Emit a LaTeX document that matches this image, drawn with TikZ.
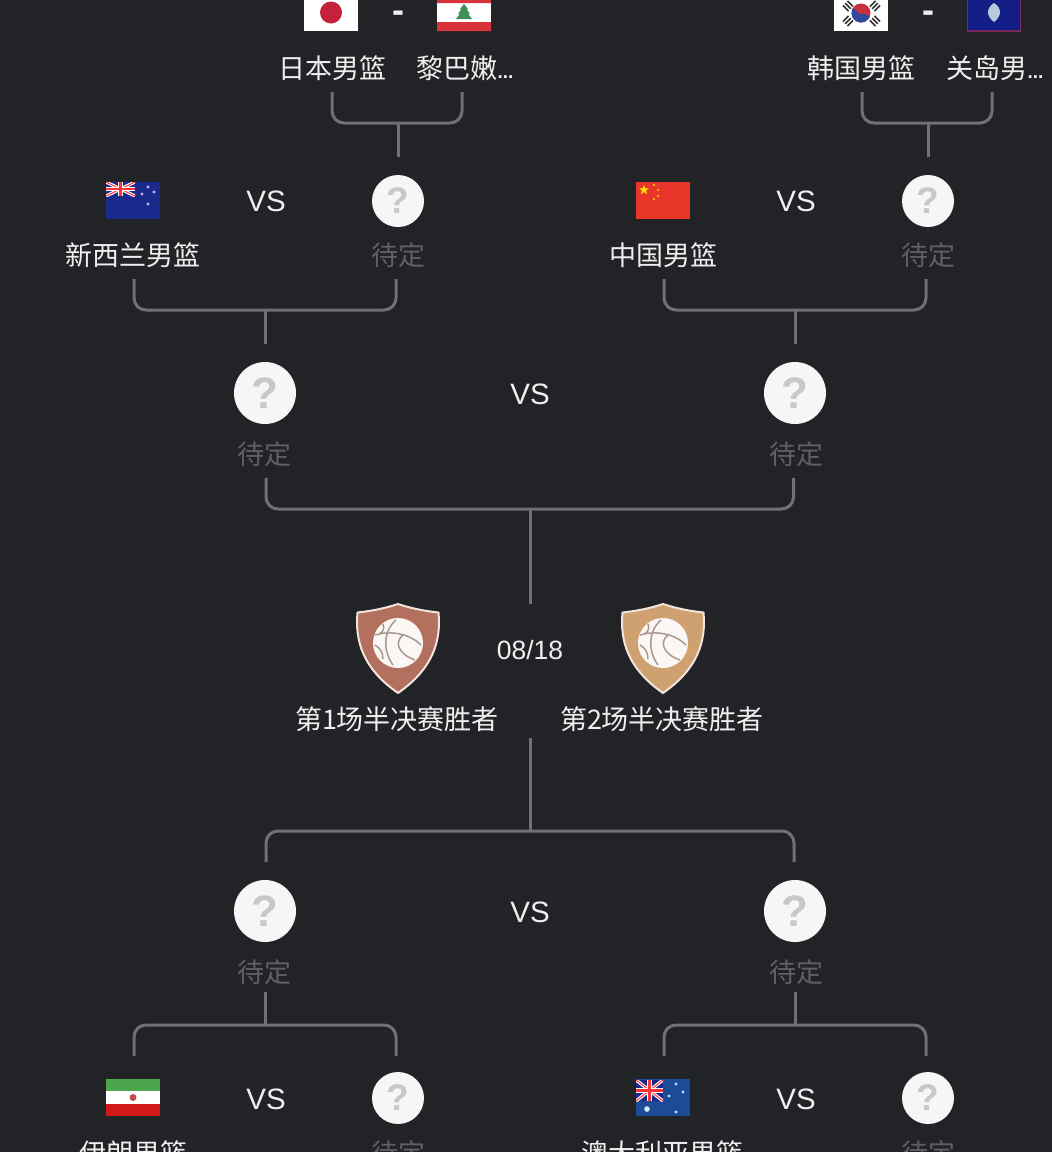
\documentclass[tikz,border=0pt]{standalone}
\usepackage{fontspec}
\usetikzlibrary{shapes.geometric}
\setmainfont{Noto Sans CJK SC}
\newfontfamily\latinfont{Liberation Sans}
\definecolor{bgdark}{HTML}{222326}
\definecolor{linegrey}{HTML}{707173}
\definecolor{txtwhite}{HTML}{EFEFEF}
\definecolor{txtgrey}{HTML}{5F6062}
\definecolor{qwhite}{HTML}{F6F6F6}
\definecolor{qgrey}{HTML}{C8C8C8}
\definecolor{jackblue}{HTML}{1A2A8C}
\definecolor{guamblue}{HTML}{141E87}
\definecolor{guamedge}{HTML}{78285A}
\definecolor{guamseal}{HTML}{B9C9DC}
\definecolor{cnred}{HTML}{E8352A}
\definecolor{aublue}{HTML}{1E4B96}
\definecolor{shieldA}{HTML}{B4705E}
\definecolor{shieldB}{HTML}{CFA070}
\definecolor{shieldedge}{HTML}{F2E4DC}
\definecolor{ballwhite}{HTML}{FBF7F4}
\definecolor{ballline}{HTML}{A8988F}
\definecolor{jpred}{HTML}{C4213A}
\definecolor{lbred}{HTML}{D8323A}
\definecolor{lbgreen}{HTML}{3E8F55}
\definecolor{krred}{HTML}{C8303F}
\definecolor{krblue}{HTML}{2C4A9C}
\definecolor{krbar}{HTML}{333333}
\newcommand{\dotsmark}{{\latinfont\bfseries\fontsize{19}{20}\selectfont...}}
\tikzset{
  every node/.style={inner sep=0pt,outer sep=0pt},
  teamlabel/.style={text=txtwhite,font=\fontsize{27}{30}\selectfont,minimum height=48pt},
  pending/.style={text=txtgrey,font=\fontsize{27}{30}\selectfont,minimum height=48pt},
  vslabel/.style={text=txtwhite,font=\latinfont\fontsize{29.5}{33}\selectfont},
  datelabel/.style={text=txtwhite,font=\latinfont\fontsize{26.5}{28}\selectfont,minimum height=92pt},
  dashlabel/.style={text=txtwhite,font=\latinfont\bfseries\fontsize{36}{38}\selectfont},
  qsmall/.style={circle,fill=qwhite,minimum size=52pt,outer sep=18pt,text=qgrey,font=\latinfont\bfseries\fontsize{37}{38}\selectfont},
  qbig/.style={circle,fill=qwhite,minimum size=62pt,outer sep=18pt,text=qgrey,font=\latinfont\bfseries\fontsize{44}{46}\selectfont},
  flagbox/.style={rectangle,minimum width=54pt,minimum height=37pt,outer sep=0pt},
  conn/.style={draw=linegrey,line width=3pt,rounded corners=12pt},
  stem/.style={draw=linegrey,line width=3pt},
  krbars/.style={draw=krbar,line width=1.6pt},
}
\newcommand{\ujack}[4]{% x0 y0 w h
  \begin{scope}
    \clip (#1,#2) rectangle ++(#3,#4);
    \fill[jackblue] (#1,#2) rectangle ++(#3,#4);
    \draw[white,line width=3.2pt] (#1,#2) -- ++(#3,#4) (#1,#2) ++(0,#4) -- ++(#3,-#4);
    \draw[red!75!white,line width=1.1pt] (#1,#2) -- ++(#3,#4) (#1,#2) ++(0,#4) -- ++(#3,-#4);
    \draw[white,line width=4.5pt] (#1,#2) ++(0,#4/2) -- ++(#3,0) (#1,#2) ++(#3/2,0) -- ++(0,#4);
    \draw[red!80!white,line width=2.2pt] (#1,#2) ++(0,#4/2) -- ++(#3,0) (#1,#2) ++(#3/2,0) -- ++(0,#4);
  \end{scope}}
\newcommand{\shieldicon}[2]{% centre x, colour
  \begin{scope}[shift={(#1,0)}]
    \draw[draw=shieldedge,fill=#2,line width=2pt,line join=round]
      (-40.5,612.5) .. controls (-26,611) and (-12,608) .. (0,604)
      .. controls (12,608) and (26,611) .. (40.5,612.5)
      .. controls (43,640) and (36,668) .. (0,693)
      .. controls (-36,668) and (-43,640) .. (-40.5,612.5) -- cycle;
    \fill[ballwhite] (0,643) circle (25);
    \draw[ballline,line width=1.5pt]
      (-2,620) .. controls (-14,630) and (-16,650) .. (-5,665)
      (-23,635) .. controls (-10,631) and (10,632) .. (23,645)
      (-15,624) .. controls (-13,631) and (-16,634) .. (-23,635)
      (5,635) .. controls (-4,642) and (0,654) .. (17,660)
      (-23,645) .. controls (-18,648) and (-15,652) .. (-15,659);
  \end{scope}}
\newcommand{\krtri}[3]{% centre x, y, angle
  \begin{scope}[shift={(#1,#2)},rotate=#3]
    \draw[krbars] (-4,-3.2) -- (4,-3.2) (-4,0) -- (4,0) (-4,3.2) -- (4,3.2);
  \end{scope}}
\begin{document}
\begin{tikzpicture}[x=1pt,y=-1pt]
\useasboundingbox (0,0) rectangle (1052,1152);
\clip (0,0) rectangle (1052,1152);
\fill[bgdark] (0,0) rectangle (1052,1152);

% ---- Flags: top row
\node[flagbox,fill=white] (fjp) at (331,12.5) {};
\fill[jpred] (fjp.center) circle (11);
\node[flagbox,fill=white] (flb) at (464,12.5) {};
\fill[lbred] (437,-6) rectangle (491,3) (437,22) rectangle (491,31);
\fill[lbgreen] (464,4) -- (468,9) -- (466.5,9) -- (470,14) -- (468,14) -- (472,19) -- (456,19) -- (460,14) -- (458,14) -- (461.5,9) -- (460,9) -- cycle;
\node[flagbox,fill=white] (fkr) at (861,12.5) {};
\fill[krred] (861,13) circle (9.5);
\begin{scope}
  \clip (861,13) circle (9.5);
  \fill[krblue] (850,7) .. controls (856,7) and (857,15) .. (861,14) .. controls (866,13) and (868,17) .. (873,17) -- (873,26) -- (850,26) -- cycle;
\end{scope}
\krtri{848}{6}{-45}
\krtri{875}{6}{45}
\krtri{848}{21}{45}
\krtri{875}{21}{-45}
\node[flagbox,fill=guamblue,draw=guamedge,line width=1.5pt,minimum width=53pt] (fgu) at (994,12.5) {};
\fill[guamseal] (994,3) .. controls (1002,8) and (1002,16) .. (994,22) .. controls (986,16) and (986,8) .. (994,3) -- cycle;

% ---- Flags: second row
\node[flagbox,fill=jackblue] (fnz) at (133,200.5) {};
\ujack{106}{182}{29}{14}
\foreach \sx/\sy in {142/194,148/187,154/192,148/204}{\fill[red!45!blue!30!white] (\sx,\sy) circle (1.6);}
\node[flagbox,fill=cnred] (fcn) at (663,200.5) {};
\node[star,star points=5,star point ratio=2.4,fill=yellow!85!orange,minimum size=10pt] (cnstar) at (644,190) {};
\foreach \sx/\sy in {654/185,658/190,658/196,654/199}{\fill[yellow!80!orange] (\sx,\sy) circle (1.2);}

% ---- Flags: bottom row
\node[flagbox,fill=white] (fir) at (133,1097.5) {};
\fill[green!50!black!70!white] (106,1079) rectangle (160,1091);
\fill[red!80!black!90!white] (106,1104) rectangle (160,1116);
\fill[red!70!black!70!white] (fir.center) circle (3.5);
\node[flagbox,fill=aublue] (fau) at (663,1097.5) {};
\ujack{636}{1080}{27}{21}
\foreach \sx/\sy in {676/1084,669/1096,683/1092,676/1112}{\fill[white!70!cyan] (\sx,\sy) circle (1.6);}
\fill[white!80!cyan] (647,1109) circle (2.8);

% ---- Question circles
\node[qsmall] (qa) at (398,201) {?};
\node[qsmall] (qb) at (928,201) {?};
\node[qsmall] (qc) at (398,1098) {?};
\node[qsmall] (qd) at (928,1098) {?};
\node[qbig] (qe) at (265,393) {?};
\node[qbig] (qf) at (795,393) {?};
\node[qbig] (qg) at (265,911) {?};
\node[qbig] (qh) at (795,911) {?};

% ---- Name labels
\node[teamlabel] (ljp) at (332,68) {日本男篮};
\node[teamlabel] (llb) at (465,68) {黎巴嫩\dotsmark};
\node[teamlabel] (lkr) at (861,68) {韩国男篮};
\node[teamlabel] (lgu) at (995,68) {关岛男\dotsmark};
\node[teamlabel] (lnz) at (133,255) {新西兰男篮};
\node[pending] (pa) at (398,255) {待定};
\node[teamlabel] (lcn) at (663,255) {中国男篮};
\node[pending] (pb) at (928,255) {待定};
\node[pending] (pe) at (264,454) {待定};
\node[pending] (pf) at (796,454) {待定};
\node[pending] (pg) at (264,972) {待定};
\node[pending] (ph) at (796,972) {待定};
\node[teamlabel] (lir) at (133,1153) {伊朗男篮};
\node[pending] (pc) at (398,1153) {待定};
\node[teamlabel] (lau) at (662,1153) {澳大利亚男篮};
\node[pending] (pd) at (928,1153) {待定};

% ---- Middle
\node[dashlabel] (da) at (398,17) {-};
\node[dashlabel] (db) at (928,17) {-};
\node[vslabel] (va) at (266,201) {VS};
\node[vslabel] (vb) at (796,201) {VS};
\node[vslabel] (vc) at (530,394) {VS};
\node[vslabel] (vd) at (530,912) {VS};
\node[vslabel] (ve) at (266,1099) {VS};
\node[vslabel] (vf) at (796,1099) {VS};
\node[datelabel] (date) at (530,650) {08/18};
\node[teamlabel,minimum height=0pt] (sf1) at (397,719) {第1场半决赛胜者};
\node[teamlabel,minimum height=0pt] (sf2) at (662,719) {第2场半决赛胜者};
\shieldicon{398}{shieldA}
\shieldicon{663}{shieldB}

% ---- Junctions
\coordinate (ma) at (398,123);
\coordinate (mb) at (928,123);
\coordinate (mc) at (265,310);
\coordinate (md) at (795,310);
\coordinate (me) at (530,509);
\coordinate (mf) at (530,831);
\coordinate (mg) at (265,1025);
\coordinate (mh) at (795,1025);
\coordinate (lgi) at (134,1056);
\coordinate (rgi) at (396,1056);
\coordinate (lga) at (664,1056);
\coordinate (rga) at (926,1056);

% ---- Connectors
\draw[conn] (ljp.south) |- (ma) -| ([xshift=-3pt]llb.south);
\draw[stem] (ma) -- (qa.north);
\draw[conn] ([xshift=1pt]lkr.south) |- (mb) -| ([xshift=-3pt]lgu.south);
\draw[stem] (mb) -- (qb.north);
\draw[conn] ([xshift=1pt]lnz.south) |- (mc) -| ([xshift=-2pt]pa.south);
\draw[stem] (mc) -- (qe.north);
\draw[conn] ([xshift=1pt]lcn.south) |- (md) -| ([xshift=-2pt]pb.south);
\draw[stem] (md) -- (qf.north);
\draw[conn] ([xshift=2pt]pe.south) |- (me) -| ([xshift=-2.5pt]pf.south);
\draw[stem] (me) -- (date.north);
\draw[stem] ([yshift=-42pt]date.south) -- (mf);
\draw[conn] ([xshift=1pt]qg.north) |- (mf) -| ([xshift=-1pt]qh.north);
\draw[stem] ([xshift=1pt,yshift=4pt]pg.south) -- (mg);
\draw[stem] ([xshift=-1pt,yshift=4pt]ph.south) -- (mh);
\draw[conn] (lgi) |- (mg) -| (rgi);
\draw[conn] (lga) |- (mh) -| (rga);
\end{tikzpicture}
\end{document}
